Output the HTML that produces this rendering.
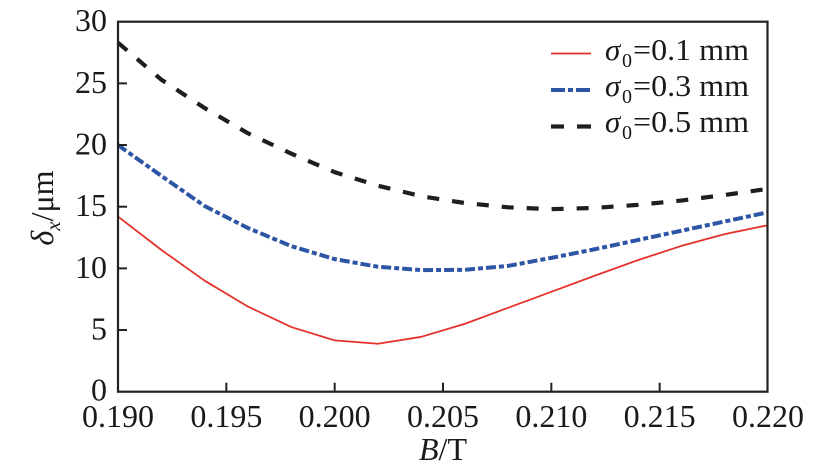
<!DOCTYPE html>
<html>
<head>
<meta charset="utf-8">
<style>
  html,body{margin:0;padding:0;background:#fff;}
  svg{display:block;}
  text{font-family:"Liberation Serif","DejaVu Serif",serif;fill:#1a1a1a;}
</style>
</head>
<body>
<svg width="827" height="475" viewBox="0 0 827 475" xmlns="http://www.w3.org/2000/svg">
  <rect x="0" y="0" width="827" height="475" fill="#fff"/>

  <!-- series -->
  <polyline fill="none" stroke="#1e1e1e" stroke-width="4.2" stroke-dasharray="12 13"
    points="118,42.67 161.33,79.67 204.67,108.03 248,133.32 291.33,153.67 334.67,172.17 378,185.73 421.33,196.22 464.67,203 508,207.32 551.33,209.17 594.67,207.93 638,204.85 681.33,200.53 724.67,194.98 768,188.82"/>
  <polyline fill="none" stroke="#2d55a5" stroke-width="4" stroke-dasharray="10 3 5 3"
    points="118,145.03 161.33,175.87 204.67,206.08 248,228.04 291.33,246.17 334.67,259.12 378,266.77 421.33,270.1 464.67,269.85 508,265.9 551.33,257.89 594.67,249.25 638,240 681.33,230.75 724.67,221.5 768,212.25"/>
  <polyline fill="none" stroke="#e4322b" stroke-width="1.8" stroke-linejoin="round"
    points="118,216.57 161.33,249.87 204.67,280.7 248,306.6 291.33,327.07 334.67,340.39 378,343.72 421.33,336.82 464.67,323.87 508,307.83 551.33,291.8 594.67,275.77 638,260.1 681.33,245.92 724.67,234.08 768,225.2"/>

  <!-- frame -->
  <rect x="118" y="21.7" width="649.5" height="370" fill="none" stroke="#222" stroke-width="2.2"/>

  <!-- y ticks -->
  <g stroke="#222" stroke-width="2">
    <line x1="118" y1="330.03" x2="127" y2="330.03"/>
    <line x1="118" y1="268.37" x2="127" y2="268.37"/>
    <line x1="118" y1="206.7" x2="127" y2="206.7"/>
    <line x1="118" y1="145.03" x2="127" y2="145.03"/>
    <line x1="118" y1="83.37" x2="127" y2="83.37"/>
    <!-- x ticks -->
    <line x1="226.33" y1="391.7" x2="226.33" y2="382.7"/>
    <line x1="334.67" y1="391.7" x2="334.67" y2="382.7"/>
    <line x1="443" y1="391.7" x2="443" y2="382.7"/>
    <line x1="551.33" y1="391.7" x2="551.33" y2="382.7"/>
    <line x1="659.67" y1="391.7" x2="659.67" y2="382.7"/>
  </g>

  <!-- y tick labels -->
  <g font-size="32" text-anchor="end">
    <text x="107" y="400.5">0</text>
    <text x="107" y="339.5">5</text>
    <text x="107" y="277.9">10</text>
    <text x="107" y="216.2">15</text>
    <text x="107" y="154.5">20</text>
    <text x="107" y="92.9">25</text>
    <text x="107" y="31.2">30</text>
  </g>

  <!-- x tick labels -->
  <g font-size="32" text-anchor="middle">
    <text x="118" y="427">0.190</text>
    <text x="226.33" y="427">0.195</text>
    <text x="334.67" y="427">0.200</text>
    <text x="443" y="427">0.205</text>
    <text x="551.33" y="427">0.210</text>
    <text x="659.67" y="427">0.215</text>
    <text x="768" y="427">0.220</text>
  </g>

  <!-- x axis label -->
  <text x="443" y="460" font-size="32" text-anchor="middle"><tspan font-style="italic">B</tspan>/T</text>

  <!-- y axis label -->
  <text transform="translate(53,208) rotate(-90)" x="0" y="0" font-size="32" text-anchor="middle"><tspan font-style="italic">δ</tspan><tspan font-style="italic" font-size="21" dy="7">x</tspan><tspan dy="-7">/μm</tspan></text>

  <!-- legend -->
  <line x1="551" y1="53.5" x2="591" y2="53.5" stroke="#e4322b" stroke-width="1.8"/>
  <g stroke="#2d55a5" stroke-width="4">
    <line x1="551" y1="90" x2="565" y2="90"/>
    <line x1="568" y1="90" x2="573" y2="90"/>
    <line x1="576" y1="90" x2="590" y2="90"/>
  </g>
  <g stroke="#1e1e1e" stroke-width="4.2">
    <line x1="551" y1="126.5" x2="564" y2="126.5"/>
    <line x1="577" y1="126.5" x2="591" y2="126.5"/>
  </g>

  <g font-size="31">
    <text x="605" y="60" font-style="italic">σ</text>
    <text x="622" y="67" font-size="20">0</text>
    <text x="633" y="60" textLength="116" lengthAdjust="spacingAndGlyphs">=0.1 mm</text>

    <text x="605" y="96" font-style="italic">σ</text>
    <text x="622" y="103" font-size="20">0</text>
    <text x="633" y="96" textLength="116" lengthAdjust="spacingAndGlyphs">=0.3 mm</text>

    <text x="605" y="132" font-style="italic">σ</text>
    <text x="622" y="139" font-size="20">0</text>
    <text x="633" y="132" textLength="116" lengthAdjust="spacingAndGlyphs">=0.5 mm</text>
  </g>
</svg>
</body>
</html>
